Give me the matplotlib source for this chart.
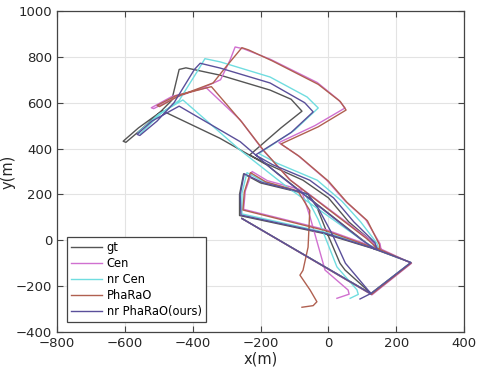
import matplotlib
matplotlib.use("Agg")
import matplotlib.pyplot as plt

# trajectories (x, y) in metres
gt_x = [-255, 125, 243, 135, 93, -181, -320, -490, -560, -605, -597, -550, -500, -462,
        -440, -420, -319, -172, -110, -78, -140, -232, -180, -75, 0, 60, 132, 140, -15,
        -262, -262, -250, -200, -60, -34, -4, 34, 49, 123]
gt_y = [95, -232, -97, -38, 10, 328, 445, 565, 490, 432, 427, 486, 553, 610,
        745, 752, 720, 655, 615, 563, 490, 372, 332, 262, 185, 80, -10, -40, 30,
        108, 200, 290, 250, 200, 145, 32, -100, -130, -228]

cen_x = [-255, 128, 245, 150, 115, -110, -193, -260, -360, -460, -522, -515, -455, -360,
         -318, -290, -275, -250, -172, -33, 30, 49, -40, -146, -90, -5, 50, 110, 152, 155,
         -5, -250, -245, -225, -180, -80, -54, -10, 58, 61, 25]
cen_y = [95, -238, -100, -35, 10, 260, 393, 525, 665, 628, 578, 574, 620, 672,
         700, 786, 843, 835, 790, 688, 612, 577, 500, 426, 370, 262, 170, 90, -15, -40,
         45, 135, 215, 300, 260, 220, 101, -130, -217, -235, -253]

nrcen_x = [-255, 125, 243, 138, 100, -120, -260, -429, -500, -561, -553, -496, -440, -385,
           -364, -319, -172, -63, -30, -100, -205, -150, -33, 40, 95, 143, 148, -10,
           -255, -255, -240, -190, -70, -30, 25, 84, 88, 64]
nrcen_y = [95, -234, -97, -36, 0, 230, 393, 612, 550, 470, 466, 550, 610, 740,
           792, 778, 712, 625, 577, 480, 378, 335, 262, 170, 80, -13, -40, 35,
           115, 205, 295, 255, 205, 90, -116, -216, -236, -253]

ph_x = [-255, 127, 244, 145, 112, -115, -190, -255, -345, -450, -505, -498, -440, -340,
        -300, -255, -235, -165, -30, 35, 52, -30, -140, -85, 0, 55, 115, 150, 152, -8,
        -252, -248, -230, -185, -90, -55, -60, -75, -84, -54, -34, -45, -78]
ph_y = [95, -236, -99, -36, 8, 265, 390, 515, 670, 630, 588, 583, 630, 686,
        760, 840, 830, 782, 680, 605, 568, 495, 420, 365, 258, 165, 85, -18, -42, 42,
        132, 210, 295, 255, 215, 130, -30, -131, -152, -217, -268, -285, -292]

nrph_x = [-255, 125, 243, 136, 95, -150, -260, -440, -520, -564, -556, -505, -455, -395,
          -378, -319, -172, -70, -45, -110, -215, -165, -55, 15, 75, 137, 143, -12,
          -258, -260, -248, -195, -60, -30, 10, 50, 125, 93]
nrph_y = [95, -233, -97, -37, 5, 290, 430, 585, 520, 462, 457, 520, 600, 745,
          772, 751, 686, 600, 560, 470, 372, 330, 262, 185, 80, -10, -40, 32,
          110, 200, 290, 252, 202, 140, 30, -100, -232, -256]

labels = ["gt", "Cen", "nr Cen", "PhaRaO", "nr PhaRaO(ours)"]
colors = ["#555555", "#d070d0", "#70dde0", "#b06050", "#5a4f9a"]

fig = plt.figure(figsize=(4.79, 3.72), dpi=100)
ax = fig.add_axes([0.119, 0.1075, 0.850, 0.863])

series = [(gt_x, gt_y), (cen_x, cen_y), (nrcen_x, nrcen_y), (ph_x, ph_y), (nrph_x, nrph_y)]
for (xs, ys), lab, c in zip(series, labels, colors):
    ax.plot(xs, ys, color=c, lw=1.0, label=lab)

ax.set_xlim(-800, 400)
ax.set_ylim(-400, 1000)
ax.set_xticks(range(-800, 401, 200))
ax.set_yticks(range(-400, 1001, 200))
ax.grid(True, color="#e3e3e3", lw=0.8)
ax.set_axisbelow(True)
ax.tick_params(direction="in", top=True, right=True, labelsize=9.5, length=4,
               color="#444444", labelcolor="#262626")
for s in ax.spines.values():
    s.set_color("#444444")
    s.set_linewidth(0.9)
ax.set_xlabel("x(m)", fontsize=10.5, color="#262626", labelpad=1)
ax.set_ylabel("y(m)", fontsize=10.5, color="#262626", labelpad=0)

leg = ax.legend(loc="lower left", bbox_to_anchor=(0.024, 0.031), fontsize=8.3,
                fancybox=False, edgecolor="#444444", framealpha=1,
                handlelength=2.7, handletextpad=0.4, borderpad=0.35,
                labelspacing=0.25, borderaxespad=0)
leg.get_frame().set_linewidth(0.9)

fig.savefig("out.png", dpi=100)
